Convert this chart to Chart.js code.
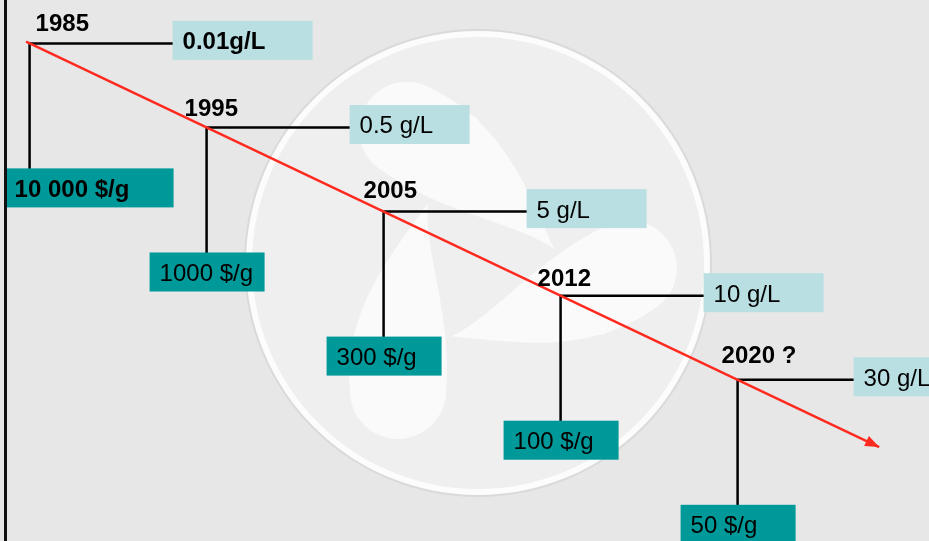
<!DOCTYPE html>
<html>
<head>
<meta charset="utf-8">
<title>Titre et coût de production</title>
<script src="https://cdn.jsdelivr.net/npm/chart.js@4/dist/chart.umd.min.js"></script>
<style>
  html, body { margin: 0; padding: 0; background: #e7e7e7; }
  canvas { display: block; }
</style>
</head>
<body>
<canvas id="chart" width="929" height="541"></canvas>
<script>
// Milestones along the downward trend
const years  = ['1985', '1995', '2005', '2012', '2020 ?'];
const titres = ['0.01g/L', '0.5 g/L', '5 g/L', '10 g/L', '30 g/L'];
const prices = ['10 000 $/g', '1000 $/g', '300 $/g', '100 $/g', '50 $/g'];
const steps  = [0, 1, 2, 3, 4];
// Extent of the red trend arrow, in step units
const trendSpan = [-0.02, 4.8];

// Presentation only
const FONT = "'Liberation Sans', Arial, sans-serif";
const FONT_SIZE = 24;
const COLORS = {
  background: '#e7e7e7',
  titreBox: '#b9dfe2',
  priceBox: '#009999',
  trend: '#ff2a1f',
  ink: '#000000'
};
const layout = {
  titreReach: [143, 143, 143, 143, 116],
  titreWidth: [140, 120, 120, 120, 120],
  titreLift: -3,
  priceDrop: 125,
  priceLeft: [-25, -57, -57, -57, -57],
  priceWidth: [169, 115, 115, 115, 115],
  boxHeight: 39,
  textPad: 10,
  yearNudge: [[6, -12], [-22, -11], [-20, -14], [-23, -10], [-16, -17]]
};

function drawWatermark(ctx, cx, cy, r) {
  ctx.save();
  ctx.beginPath(); ctx.arc(cx, cy, r + 2, 0, Math.PI * 2);
  ctx.fillStyle = '#dadada'; ctx.fill();
  ctx.beginPath(); ctx.arc(cx, cy, r, 0, Math.PI * 2);
  ctx.fillStyle = '#fcfcfc'; ctx.fill();
  ctx.beginPath(); ctx.arc(cx, cy, r - 6, 0, Math.PI * 2);
  ctx.fillStyle = '#efefef'; ctx.fill();
  ctx.translate(cx, cy);
  ctx.fillStyle = '#fafafa';
  for (let k = 0; k < 3; k++) {
    ctx.save();
    ctx.rotate(k * 2 * Math.PI / 3);
    ctx.beginPath();
    ctx.moveTo(-128, 128);
    ctx.bezierCurveTo(-134, 45, -85, -10, -50, -60);
    ctx.bezierCurveTo(-55, -15, -25, 55, -32, 128);
    ctx.arc(-80, 128, 48, 0, Math.PI, false);
    ctx.closePath();
    ctx.fill();
    ctx.beginPath();
    ctx.arc(-10, -135, 13, 0, Math.PI * 2);
    ctx.fill();
    ctx.restore();
  }
  ctx.restore();
}

const backdrop = {
  id: 'backdrop',
  beforeDraw(chart) {
    const { ctx, width, height } = chart;
    ctx.save();
    ctx.fillStyle = COLORS.background;
    ctx.fillRect(0, 0, width, height);
    drawWatermark(ctx, 478, 263, 232);
    ctx.restore();
  },
  afterDraw(chart) {
    const { ctx, height } = chart;
    ctx.save();
    ctx.strokeStyle = '#111';
    ctx.lineWidth = 3;
    ctx.beginPath();
    ctx.moveTo(5.5, 0);
    ctx.lineTo(5.5, height);
    ctx.stroke();
    ctx.restore();
  }
};

function cornerPoints(chart) {
  return chart.getDatasetMeta(0).data.map(p => ({ x: p.x, y: p.y }));
}

const callouts = {
  id: 'callouts',
  beforeDatasetsDraw(chart) {
    const { ctx } = chart;
    ctx.save();
    ctx.strokeStyle = COLORS.ink;
    ctx.lineWidth = 2.5;
    ctx.lineCap = 'square';
    cornerPoints(chart).forEach((c, i) => {
      ctx.beginPath();
      ctx.moveTo(c.x + layout.titreReach[i], c.y);
      ctx.lineTo(c.x, c.y);
      ctx.lineTo(c.x, c.y + layout.priceDrop);
      ctx.stroke();
    });
    ctx.restore();
  },
  afterDatasetsDraw(chart) {
    const { ctx } = chart;
    ctx.save();
    const h = layout.boxHeight;

    // arrow head at the end of the trend line
    const tl = chart.getDatasetMeta(1).data;
    const a = tl[0], b = tl[tl.length - 1];
    const ang = Math.atan2(b.y - a.y, b.x - a.x);
    ctx.fillStyle = COLORS.trend;
    ctx.beginPath();
    ctx.moveTo(b.x, b.y);
    ctx.lineTo(b.x - 14 * Math.cos(ang) + 5.5 * Math.sin(ang), b.y - 14 * Math.sin(ang) - 5.5 * Math.cos(ang));
    ctx.lineTo(b.x - 14 * Math.cos(ang) - 5.5 * Math.sin(ang), b.y - 14 * Math.sin(ang) + 5.5 * Math.cos(ang));
    ctx.closePath();
    ctx.fill();

    cornerPoints(chart).forEach((c, i) => {
      const weight = i === 0 ? 'bold ' : '';
      ctx.font = weight + FONT_SIZE + 'px ' + FONT;
      ctx.textAlign = 'left';
      ctx.textBaseline = 'alphabetic';

      // concentration box
      const tx = c.x + layout.titreReach[i];
      const tMid = c.y + layout.titreLift;
      ctx.fillStyle = COLORS.titreBox;
      ctx.fillRect(tx, tMid - h / 2, layout.titreWidth[i], h);
      ctx.fillStyle = COLORS.ink;
      ctx.fillText(titres[i], tx + layout.textPad, tMid + 9);

      // price box
      const px = c.x + layout.priceLeft[i];
      const pTop = c.y + layout.priceDrop;
      ctx.fillStyle = COLORS.priceBox;
      ctx.fillRect(px, pTop, layout.priceWidth[i], h);
      ctx.fillStyle = COLORS.ink;
      ctx.fillText(prices[i], px + layout.textPad, pTop + h / 2 + 9);

      // year label
      ctx.font = 'bold ' + FONT_SIZE + 'px ' + FONT;
      const [nx, ny] = layout.yearNudge[i];
      ctx.fillText(years[i], c.x + nx, c.y + ny);
    });
    ctx.restore();
  }
};

new Chart(document.getElementById('chart'), {
  type: 'scatter',
  data: {
    datasets: [
      {
        label: 'Jalons',
        data: steps.map(s => ({ x: s, y: s })),
        pointRadius: 0,
        showLine: false
      },
      {
        label: 'Tendance',
        data: trendSpan.map(s => ({ x: s, y: s })),
        showLine: true,
        borderColor: COLORS.trend,
        borderWidth: 2.5,
        pointRadius: 0,
        fill: false
      }
    ]
  },
  options: {
    responsive: false,
    animation: false,
    events: [],
    layout: { padding: 0 },
    plugins: {
      legend: { display: false },
      tooltip: { enabled: false }
    },
    scales: {
      x: { type: 'linear', display: false, min: -0.1672, max: 5.0814 },
      y: { type: 'linear', display: false, reverse: true, min: -0.516, max: 5.9167 }
    }
  },
  plugins: [backdrop, callouts]
});
</script>
</body>
</html>
